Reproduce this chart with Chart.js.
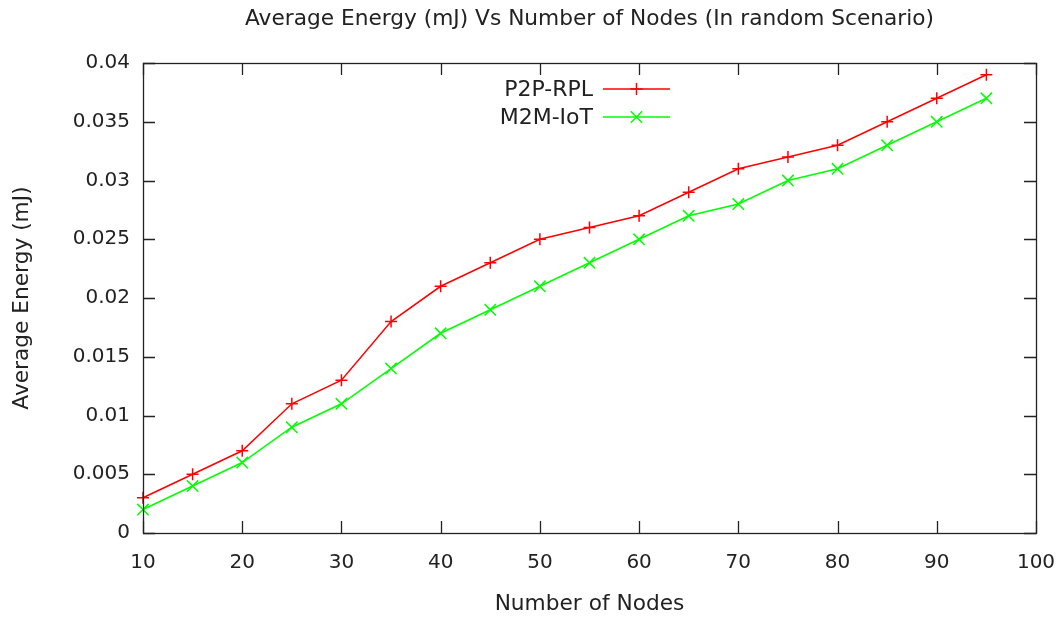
<!DOCTYPE html>
<html>
<head>
<meta charset="utf-8">
<script src="https://cdn.jsdelivr.net/npm/chart.js@4"></script>
<style>
html,body{margin:0;padding:0;background:#fff;}
#wrap{width:1063px;height:617px;}
</style>
</head>
<body>
<div id="wrap"><canvas id="c" width="1063" height="617"></canvas></div>
<script>
const nodes = [10,15,20,25,30,35,40,45,50,55,60,65,70,75,80,85,90,95];
const p2pRpl = [0.003,0.005,0.007,0.011,0.013,0.018,0.021,0.023,0.025,0.026,0.027,0.029,0.031,0.032,0.033,0.035,0.037,0.039];
const m2mIot = [0.002,0.004,0.006,0.009,0.011,0.014,0.017,0.019,0.021,0.023,0.025,0.027,0.028,0.030,0.031,0.033,0.035,0.037];
const seriesLabels = ['P2P-RPL','M2M-IoT'];
const titleText = 'Average Energy (mJ) Vs Number of Nodes (In random Scenario)';
const xTitle = 'Number of Nodes';
const yTitle = 'Average Energy (mJ)';

const FONT = 'DejaVu Sans';
const TXT = '#222';

const framePlugin = {
  id: 'frame',
  afterDatasetsDraw(chart) {
    const {ctx, chartArea: a, scales} = chart;
    ctx.save();
    ctx.strokeStyle = '#222';
    ctx.lineWidth = 1.3;
    const tl = 12;
    ctx.beginPath();
    scales.x.ticks.forEach(t => {
      const px = Math.round(scales.x.getPixelForValue(t.value)) + 0.5;
      ctx.moveTo(px, a.bottom); ctx.lineTo(px, a.bottom - tl);
      ctx.moveTo(px, a.top); ctx.lineTo(px, a.top + tl);
    });
    scales.y.ticks.forEach(t => {
      const py = Math.round(scales.y.getPixelForValue(t.value)) + 0.5;
      ctx.moveTo(a.left, py); ctx.lineTo(a.left + tl, py);
      ctx.moveTo(a.right, py); ctx.lineTo(a.right - tl, py);
    });
    ctx.stroke();
    ctx.strokeRect(Math.round(a.left)+0.5, Math.round(a.top)+0.5, Math.round(a.right-a.left), Math.round(a.bottom-a.top));
    // legend
    ctx.font = '22px "' + FONT + '"';
    ctx.textAlign = 'right';
    ctx.textBaseline = 'middle';
    const lx = 593, ly0 = 89, dy = 28, x1 = 603, x2 = 670;
    chart.data.datasets.forEach((ds, i) => {
      const y = ly0 + i * dy;
      ctx.fillStyle = TXT;
      ctx.fillText(ds.label, lx, y + 1);
      ctx.strokeStyle = ds.borderColor;
      ctx.lineWidth = 1.5;
      ctx.beginPath();
      ctx.moveTo(x1, y); ctx.lineTo(x2, y);
      ctx.stroke();
      Chart.helpers.drawPoint(ctx, {pointStyle: ds.pointStyle, radius: ds.pointRadius, borderWidth: 1.5}, (x1 + x2) / 2, y);
    });
    ctx.restore();
  }
};

new Chart(document.getElementById('c'), {
  type: 'line',
  data: {
    datasets: [
      {
        label: seriesLabels[0],
        data: nodes.map((x, i) => ({x, y: p2pRpl[i]})),
        borderColor: '#ff0000',
        backgroundColor: '#ff0000',
        borderWidth: 1.5,
        pointStyle: 'cross',
        pointRadius: 6,
        pointBorderWidth: 1.5,
        tension: 0
      },
      {
        label: seriesLabels[1],
        data: nodes.map((x, i) => ({x, y: m2mIot[i]})),
        borderColor: '#00ff00',
        backgroundColor: '#00ff00',
        borderWidth: 1.5,
        pointStyle: 'crossRot',
        pointRadius: 8,
        pointBorderWidth: 1.5,
        tension: 0
      }
    ]
  },
  options: {
    responsive: false,
    animation: false,
    clip: false,
    layout: {padding: {top: 0, left: 0, right: 27, bottom: 0}},
    plugins: {
      legend: {display: false},
      tooltip: {enabled: false},
      title: {
        display: true,
        fullSize: false,
        text: titleText,
        color: TXT,
        font: {family: FONT, size: 21.7, weight: 'normal', lineHeight: 1.2},
        padding: {top: 6, bottom: 31}
      }
    },
    scales: {
      x: {
        type: 'linear',
        min: 10, max: 100,
        afterFit(s) { s.height = 84; s.paddingLeft = 0; s.paddingRight = 0; },
        grid: {display: false, drawTicks: false},
        border: {display: false},
        ticks: {stepSize: 10, color: TXT, font: {family: FONT, size: 20}, padding: 18, maxRotation: 0},
        title: {display: true, text: xTitle, color: TXT, font: {family: FONT, size: 21.7}, padding: {top: 0, bottom: 0}}
      },
      y: {
        type: 'linear',
        min: 0, max: 0.04,
        afterFit(s) { s.width = 143; s.paddingTop = 0; s.paddingBottom = 0; },
        grid: {display: false, drawTicks: false},
        border: {display: false},
        ticks: {
          stepSize: 0.005, color: TXT, font: {family: FONT, size: 20}, padding: 13,
          callback: v => String(+v.toFixed(3))
        },
        title: {display: true, text: yTitle, color: TXT, font: {family: FONT, size: 21.7}, padding: {top: 9, bottom: 0}}
      }
    }
  },
  plugins: [framePlugin]
});
</script>
</body>
</html>
